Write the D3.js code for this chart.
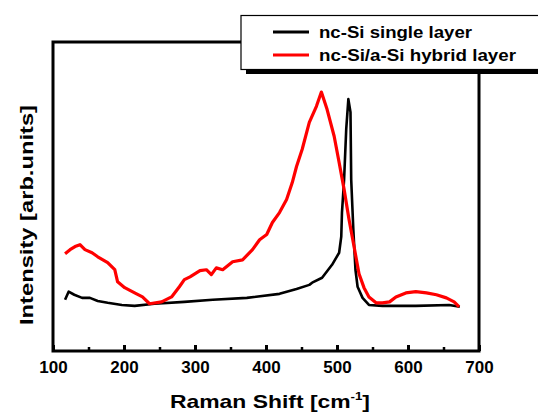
<!DOCTYPE html>
<html>
<head>
<meta charset="utf-8">
<script src="https://cdn.jsdelivr.net/npm/d3@7"></script>
<style>
  body { margin: 0; background: #fff; }
  text { font-family: "Liberation Sans", Arial, sans-serif; font-weight: bold; }
</style>
</head>
<body>
<svg id="chart" width="538" height="416"></svg>
<script>
// nc-Si single layer (Raman shift, intensity)
var singleLayer = [
  [117, 16.6], [122, 19.2], [130, 18.2], [141, 17.2], [152, 17.2], [163, 16.2],
  [177, 15.6], [197, 14.9], [215, 14.6], [243, 15.3], [285, 15.9], [325, 16.6],
  [373, 17.2], [419, 18.5], [443, 20.1], [461, 21.4], [465, 22.1], [479, 23.7],
  [493, 27.9], [503, 31.8], [506, 37.0], [507, 44.8], [510, 55.5], [513, 71.8],
  [516, 81.5], [519, 77.3], [520, 55.5], [523, 39.3], [526, 26.3], [529, 20.8],
  [536, 17.2], [545, 14.9], [564, 14.6], [611, 14.6], [658, 14.9], [673, 14.3]
];

// nc-Si/a-Si hybrid layer
var hybridLayer = [
  [117, 31.5], [124, 32.8], [131, 33.8], [138, 34.4], [145, 32.8], [155, 31.8],
  [163, 30.5], [177, 28.6], [187, 26.3], [191, 22.4], [201, 20.5], [215, 18.8],
  [226, 17.5], [236, 15.3], [253, 15.9], [267, 17.5], [278, 20.8], [285, 23.1],
  [293, 24.0], [307, 26.0], [316, 26.3], [323, 24.7], [330, 26.9], [339, 26.3],
  [353, 28.9], [367, 29.5], [381, 32.8], [391, 36.0], [401, 37.7], [409, 41.6],
  [419, 44.8], [429, 49.0], [437, 54.5], [443, 59.7], [451, 65.3], [461, 74.0],
  [471, 79.2], [478, 83.8], [486, 78.2], [496, 69.5], [503, 61.0], [510, 52.3],
  [517, 42.5], [524, 33.8], [531, 25.0], [538, 20.5], [545, 17.5], [555, 15.6],
  [564, 15.6], [574, 15.9], [583, 17.5], [597, 18.8], [611, 19.2], [626, 18.8],
  [640, 18.2], [654, 17.2], [665, 15.9], [672, 14.3]
];

var majorTicks = [100, 200, 300, 400, 500, 600, 700];
var minorTicks = [150, 250, 350, 450, 550, 650];
var seriesNames = ['nc-Si single layer', 'nc-Si/a-Si hybrid layer'];
var seriesColors = ['#000000', '#ff0000'];

var svg = d3.select('#chart');
var plot = { left: 53, right: 479, top: 42, bottom: 351 };

var x = d3.scaleLinear().domain([100, 700]).range([plot.left, plot.right]);
var y = d3.scaleLinear().domain([0, 100]).range([plot.bottom, plot.top]);

// minor ticks (inward)
svg.append('g')
  .attr('transform', 'translate(0,' + plot.bottom + ')')
  .call(d3.axisBottom(x).tickValues(minorTicks).tickSize(-4).tickFormat(''))
  .call(g => g.select('.domain').remove())
  .call(g => g.selectAll('line').attr('stroke', '#000').attr('stroke-width', 2.5));

// major ticks with labels
svg.append('g')
  .attr('transform', 'translate(0,' + plot.bottom + ')')
  .call(d3.axisBottom(x).tickValues(majorTicks).tickSize(-6).tickPadding(10).tickFormat(d3.format('d')))
  .call(g => g.select('.domain').remove())
  .call(g => g.selectAll('line').attr('stroke', '#000').attr('stroke-width', 3))
  .call(g => g.selectAll('text')
    .attr('fill', '#000')
    .style('font-size', '17px')
    .style('font-family', '"Liberation Sans", Arial, sans-serif')
    .style('font-weight', 'bold'));

// frame
svg.append('rect')
  .attr('x', plot.left).attr('y', plot.top)
  .attr('width', plot.right - plot.left).attr('height', plot.bottom - plot.top)
  .attr('fill', 'none').attr('stroke', '#000').attr('stroke-width', 3);

var line = d3.line().x(d => x(d[0])).y(d => y(d[1]));

svg.append('path')
  .datum(singleLayer)
  .attr('d', line)
  .attr('fill', 'none').attr('stroke', seriesColors[0])
  .attr('stroke-width', 2.6).attr('stroke-linejoin', 'round');

svg.append('path')
  .datum(hybridLayer)
  .attr('d', line)
  .attr('fill', 'none').attr('stroke', seriesColors[1])
  .attr('stroke-width', 3.2).attr('stroke-linejoin', 'round');

// legend (runs off the right edge like the original)
var legend = svg.append('g');
legend.append('rect')
  .attr('x', 246).attr('y', 20).attr('width', 320).attr('height', 54)
  .attr('fill', '#000');
legend.append('rect')
  .attr('x', 241).attr('y', 15.5).attr('width', 320).attr('height', 54)
  .attr('fill', '#fff').attr('stroke', '#000').attr('stroke-width', 1.2);

var legendWidths = [153, 197];
seriesNames.forEach(function (name, i) {
  var ly = 32 + i * 23;
  legend.append('line')
    .attr('x1', 273).attr('x2', 309).attr('y1', ly).attr('y2', ly)
    .attr('stroke', seriesColors[i]).attr('stroke-width', 3);
  legend.append('text')
    .attr('x', 319).attr('y', ly + 6)
    .attr('textLength', legendWidths[i]).attr('lengthAdjust', 'spacingAndGlyphs')
    .style('font-size', '17px')
    .text(name);
});

// axis titles
svg.append('text')
  .attr('x', 170).attr('y', 408)
  .attr('textLength', 200).attr('lengthAdjust', 'spacingAndGlyphs')
  .style('font-size', '19px')
  .call(t => {
    t.append('tspan').text('Raman Shift [cm');
    t.append('tspan').attr('dy', -8).style('font-size', '11px').text('-1');
    t.append('tspan').attr('dy', 8).text(']');
  });

svg.append('text')
  .attr('transform', 'translate(33,215) rotate(-90)')
  .attr('text-anchor', 'middle')
  .attr('textLength', 220).attr('lengthAdjust', 'spacingAndGlyphs')
  .style('font-size', '19px')
  .text('Intensity [arb.units]');
</script>
</body>
</html>
